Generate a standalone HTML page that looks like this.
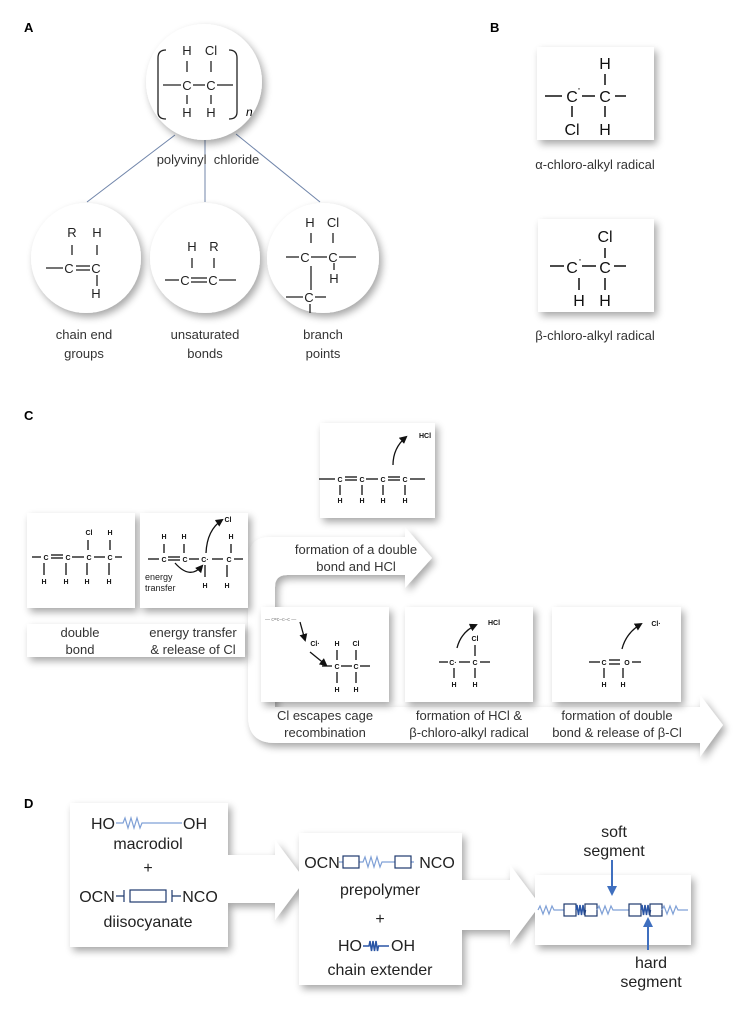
<!DOCTYPE html>
<html><head><meta charset="utf-8"><style>
html,body{margin:0;padding:0;background:#fff;}
svg{display:block;font-family:"Liberation Sans",sans-serif;}
</style></head><body>
<svg width="751" height="1009" viewBox="0 0 751 1009" xmlns="http://www.w3.org/2000/svg">
<defs>
<filter id="sh" x="-20%" y="-20%" width="150%" height="150%">
<feGaussianBlur in="SourceAlpha" stdDeviation="4"/>
<feOffset dx="3" dy="4" result="b"/>
<feComponentTransfer><feFuncA type="linear" slope="0.35"/></feComponentTransfer>
<feMerge><feMergeNode/><feMergeNode in="SourceGraphic"/></feMerge>
</filter>
<marker id="ah" markerWidth="8" markerHeight="8" refX="6" refY="4" orient="auto" markerUnits="userSpaceOnUse"><path d="M0,0 L8,4 L0,8 z" fill="#111"/></marker>
<marker id="bh" markerWidth="10" markerHeight="10" refX="8" refY="5" orient="auto" markerUnits="userSpaceOnUse"><path d="M0,0 L10,5 L0,10 z" fill="#3f6fbf"/></marker>
</defs>

<!-- Panel A -->
<text x="24" y="32" font-size="13" font-weight="bold">A</text>
<g stroke="#7085aa" stroke-width="1">
<line x1="175" y1="135" x2="87" y2="202"/>
<line x1="205" y1="140" x2="205" y2="202"/>
<line x1="236" y1="134" x2="320" y2="202"/>
</g>
<g filter="url(#sh)" fill="#fff">
<circle cx="204" cy="82" r="58"/>
<ellipse cx="86" cy="258" rx="55" ry="55"/>
<ellipse cx="205" cy="258" rx="55" ry="55"/>
<ellipse cx="323" cy="258" rx="56" ry="55"/>
</g>
<g font-size="13" text-anchor="middle" fill="#222">
<text x="187" y="55">H</text><text x="211" y="55">Cl</text>
<text x="187" y="90">C</text><text x="211" y="90">C</text>
<text x="187" y="117">H</text><text x="211" y="117">H</text>
</g>
<g stroke="#222" stroke-width="1.3" fill="none">
<line x1="187" y1="61" x2="187" y2="72"/><line x1="211" y1="61" x2="211" y2="72"/>
<line x1="187" y1="95" x2="187" y2="104"/><line x1="211" y1="95" x2="211" y2="104"/>
<line x1="163" y1="85" x2="181" y2="85"/><line x1="193" y1="85" x2="205" y2="85"/><line x1="217" y1="85" x2="233" y2="85"/>
<path d="M166,50 Q158,50 158,58 L158,112 Q158,119 166,119"/>
<path d="M229,50 Q237,50 237,58 L237,112 Q237,119 229,119"/>
</g>
<text x="246" y="116" font-size="12" font-style="italic">n</text>
<text x="208" y="164" font-size="13" text-anchor="middle" fill="#333">polyvinyl&#160; chloride</text>

<g font-size="13" text-anchor="middle" fill="#222">
<text x="72" y="237">R</text><text x="97" y="237">H</text>
<text x="69" y="273">C</text><text x="96" y="273">C</text>
<text x="96" y="298">H</text>
<text x="192" y="251">H</text><text x="214" y="251">R</text>
<text x="185" y="285">C</text><text x="213" y="285">C</text>
<text x="310" y="227">H</text><text x="333" y="227">Cl</text>
<text x="305" y="262">C</text><text x="333" y="262">C</text>
<text x="334" y="283">H</text>
<text x="309" y="302">C</text>
</g>
<g stroke="#222" stroke-width="1.3">
<line x1="72" y1="245" x2="72" y2="255"/><line x1="97" y1="245" x2="97" y2="255"/>
<line x1="46" y1="268" x2="63" y2="268"/><line x1="76" y1="266" x2="90" y2="266"/><line x1="76" y1="270" x2="90" y2="270"/>
<line x1="97" y1="275" x2="97" y2="286"/>
<line x1="192" y1="258" x2="192" y2="268"/><line x1="214" y1="258" x2="214" y2="268"/>
<line x1="165" y1="280" x2="179" y2="280"/><line x1="191" y1="278" x2="207" y2="278"/><line x1="191" y1="282" x2="207" y2="282"/><line x1="219" y1="280" x2="236" y2="280"/>
<line x1="311" y1="233" x2="311" y2="243"/><line x1="333" y1="233" x2="333" y2="243"/>
<line x1="286" y1="257" x2="299" y2="257"/><line x1="311" y1="257" x2="327" y2="257"/><line x1="339" y1="257" x2="356" y2="257"/>
<line x1="334" y1="263" x2="334" y2="270"/>
<line x1="311" y1="266" x2="311" y2="290"/>
<line x1="286" y1="297" x2="303" y2="297"/><line x1="315" y1="297" x2="326" y2="297"/>
<line x1="310" y1="304" x2="310" y2="313"/>
</g>
<g font-size="13" text-anchor="middle" fill="#333">
<text x="84" y="339">chain end</text><text x="84" y="358">groups</text>
<text x="205" y="339">unsaturated</text><text x="205" y="358">bonds</text>
<text x="323" y="339">branch</text><text x="323" y="358">points</text>
</g>

<!-- Panel B -->
<text x="490" y="32" font-size="13" font-weight="bold">B</text>
<g filter="url(#sh)" fill="#fff">
<rect x="537" y="47" width="117" height="93"/>
<rect x="538" y="219" width="116" height="93"/>
</g>
<g font-size="16" text-anchor="middle" fill="#111">
<text x="605" y="69">H</text>
<text x="572" y="102">C</text><text x="605" y="102">C</text>
<text x="572" y="135">Cl</text><text x="605" y="135">H</text>
<text x="605" y="242">Cl</text>
<text x="572" y="273">C</text><text x="605" y="273">C</text>
<text x="579" y="306">H</text><text x="605" y="306">H</text>
</g>
<g font-size="12" fill="#111"><text x="577" y="92">·</text><text x="578" y="263">·</text></g>
<g stroke="#111" stroke-width="1.5">
<line x1="605" y1="74" x2="605" y2="85"/>
<line x1="545" y1="96" x2="562" y2="96"/><line x1="582" y1="96" x2="595" y2="96"/><line x1="615" y1="96" x2="626" y2="96"/>
<line x1="572" y1="106" x2="572" y2="117"/><line x1="605" y1="106" x2="605" y2="117"/>
<line x1="605" y1="248" x2="605" y2="258"/>
<line x1="550" y1="266" x2="564" y2="266"/><line x1="582" y1="266" x2="596" y2="266"/><line x1="614" y1="266" x2="626" y2="266"/>
<line x1="579" y1="278" x2="579" y2="290"/><line x1="605" y1="278" x2="605" y2="290"/>
</g>
<g font-size="13" text-anchor="middle" fill="#333">
<text x="595" y="169">α-chloro-alkyl radical</text>
<text x="595" y="340">β-chloro-alkyl radical</text>
</g>

<!-- Panel C -->
<text x="24" y="420" font-size="13" font-weight="bold">C</text>
<path filter="url(#sh)" fill="#fff" d="M248,560 Q248,537 270,537 L405,537 L405,527 L432,558 L405,588 L405,575 L287,575 Q275,575 275,587 L275,707 L700,707 L700,695 L723,725 L700,757 L700,743 L275,743 Q248,743 248,716 Z"/>
<g filter="url(#sh)" fill="#fff">
<rect x="320" y="423" width="115" height="95"/>
<rect x="27" y="513" width="108" height="95"/>
<rect x="140" y="513" width="108" height="95"/>
<rect x="27" y="624" width="218" height="33"/>
<rect x="261" y="607" width="128" height="95"/>
<rect x="405" y="607" width="128" height="95"/>
<rect x="552" y="607" width="129" height="95"/>
</g>
<g font-size="13" text-anchor="middle" fill="#333">
<text x="356" y="554">formation of a double</text>
<text x="356" y="571">bond and HCl</text>
<text x="80" y="637">double</text><text x="80" y="654">bond</text>
<text x="193" y="637">energy transfer</text><text x="193" y="654">&amp; release of Cl</text>
<text x="325" y="720">Cl escapes cage</text><text x="325" y="737">recombination</text>
<text x="469" y="720">formation of HCl &amp;</text><text x="469" y="737">β-chloro-alkyl radical</text>
<text x="617" y="720">formation of double</text><text x="617" y="737">bond &amp; release of β-Cl</text>
</g>
<g font-size="7" text-anchor="middle" fill="#111" font-weight="bold">
<text x="340" y="482">C</text><text x="362" y="482">C</text><text x="383" y="482">C</text><text x="405" y="482">C</text>
<text x="340" y="503">H</text><text x="362" y="503">H</text><text x="383" y="503">H</text><text x="405" y="503">H</text>
<text x="425" y="438">HCl</text>
<text x="46" y="560">C</text><text x="68" y="560">C</text><text x="89" y="560">C</text><text x="110" y="560">C</text>
<text x="89" y="535">Cl</text><text x="110" y="535">H</text>
<text x="44" y="584">H</text><text x="66" y="584">H</text><text x="87" y="584">H</text><text x="109" y="584">H</text>
<text x="164" y="539">H</text><text x="184" y="539">H</text><text x="231" y="539">H</text>
<text x="164" y="562">C</text><text x="185" y="562">C</text><text x="205" y="562">C·</text><text x="229" y="562">C</text>
<text x="205" y="588">H</text><text x="227" y="588">H</text>
<text x="228" y="522">Cl</text>
<text x="315" y="646">Cl·</text>
<text x="337" y="646">H</text><text x="356" y="646">Cl</text>
<text x="337" y="669">C</text><text x="356" y="669">C</text>
<text x="337" y="692">H</text><text x="356" y="692">H</text>
<!-- box4 -->
<text x="494" y="625">HCl</text>
<text x="475" y="641">Cl</text>
<text x="453" y="665">C·</text><text x="475" y="665">C</text>
<text x="454" y="687">H</text><text x="475" y="687">H</text>
<!-- box5 -->
<text x="656" y="626">Cl·</text>
<text x="604" y="665">C</text><text x="627" y="665">O</text>
<text x="604" y="687">H</text><text x="623" y="687">H</text>
</g>
<text x="145" y="580" font-size="9" fill="#222">energy</text>
<text x="145" y="591" font-size="9" fill="#222">transfer</text>
<g font-size="5" fill="#777"><text x="265" y="621">— c=c–c–c —</text></g>
<g stroke="#111" stroke-width="1.3" fill="none">
<line x1="319" y1="479" x2="335" y2="479"/><line x1="345" y1="477" x2="357" y2="477"/><line x1="345" y1="480" x2="357" y2="480"/>
<line x1="366" y1="479" x2="378" y2="479"/><line x1="388" y1="477" x2="400" y2="477"/><line x1="388" y1="480" x2="400" y2="480"/><line x1="410" y1="479" x2="425" y2="479"/>
<line x1="340" y1="485" x2="340" y2="495"/><line x1="362" y1="485" x2="362" y2="495"/><line x1="383" y1="485" x2="383" y2="495"/><line x1="405" y1="485" x2="405" y2="495"/>
<path d="M393,465 Q393,448 406,437" marker-end="url(#ah)"/>
<line x1="32" y1="557" x2="41" y2="557"/><line x1="51" y1="555" x2="63" y2="555"/><line x1="51" y1="558" x2="63" y2="558"/>
<line x1="72" y1="557" x2="84" y2="557"/><line x1="94" y1="557" x2="105" y2="557"/><line x1="115" y1="557" x2="122" y2="557"/>
<line x1="88" y1="540" x2="88" y2="550"/><line x1="110" y1="540" x2="110" y2="550"/>
<line x1="44" y1="563" x2="44" y2="575"/><line x1="66" y1="563" x2="66" y2="575"/><line x1="87" y1="563" x2="87" y2="575"/><line x1="109" y1="563" x2="109" y2="575"/>
<line x1="148" y1="559" x2="159" y2="559"/><line x1="168" y1="557" x2="180" y2="557"/><line x1="168" y1="560" x2="180" y2="560"/>
<line x1="189" y1="559" x2="199" y2="559"/><line x1="212" y1="559" x2="223" y2="559"/><line x1="234" y1="559" x2="243" y2="559"/>
<line x1="164" y1="544" x2="164" y2="553"/><line x1="184" y1="544" x2="184" y2="553"/><line x1="231" y1="544" x2="231" y2="553"/>
<line x1="205" y1="565" x2="205" y2="577"/><line x1="227" y1="565" x2="227" y2="577"/>
<path d="M175,563 Q190,580 202,566" marker-end="url(#ah)"/>
<path d="M206,553 Q207,530 222,520" marker-end="url(#ah)"/>
<path d="M300,622 L305,640" marker-end="url(#ah)"/>
<path d="M310,652 L326,665" marker-end="url(#ah)"/>
<line x1="322" y1="666" x2="332" y2="666"/><line x1="341" y1="666" x2="352" y2="666"/><line x1="360" y1="666" x2="370" y2="666"/>
<line x1="337" y1="650" x2="337" y2="660"/><line x1="356" y1="650" x2="356" y2="660"/>
<line x1="337" y1="672" x2="337" y2="683"/><line x1="356" y1="672" x2="356" y2="683"/>
<!-- box4 -->
<line x1="439" y1="662" x2="448" y2="662"/><line x1="459" y1="662" x2="470" y2="662"/><line x1="480" y1="662" x2="490" y2="662"/>
<line x1="475" y1="645" x2="475" y2="656"/>
<line x1="454" y1="668" x2="454" y2="678"/><line x1="475" y1="668" x2="475" y2="678"/>
<path d="M457,648 Q461,632 476,625" marker-end="url(#ah)"/>
<!-- box5 -->
<line x1="589" y1="662" x2="600" y2="662"/><line x1="609" y1="660" x2="620" y2="660"/><line x1="609" y1="664" x2="620" y2="664"/><line x1="632" y1="662" x2="641" y2="662"/>
<line x1="604" y1="668" x2="604" y2="678"/><line x1="623" y1="668" x2="623" y2="678"/>
<path d="M622,649 Q626,633 641,624" marker-end="url(#ah)"/>
</g>

<!-- Panel D -->
<text x="24" y="808" font-size="13" font-weight="bold">D</text>
<g filter="url(#sh)" fill="#fff">
<path d="M228,855 L275,855 L275,840 L305,880 L275,920 L275,903 L228,903 Z"/>
<path d="M462,880 L510,880 L510,865 L540,905 L510,945 L510,930 L462,930 Z"/>
<rect x="70" y="803" width="158" height="144"/>
<rect x="299" y="833" width="163" height="152"/>
<rect x="535" y="875" width="156" height="70"/>
</g>
<g font-size="16" fill="#222" text-anchor="middle">
<text x="103" y="829">HO</text><text x="195" y="829">OH</text>
<text x="148" y="849">macrodiol</text>
<text x="148" y="873">+</text>
<text x="97" y="902">OCN</text><text x="200" y="902">NCO</text>
<text x="148" y="927">diisocyanate</text>
<text x="322" y="868">OCN</text><text x="437" y="868">NCO</text>
<text x="380" y="895">prepolymer</text>
<text x="380" y="924">+</text>
<text x="350" y="951">HO</text><text x="403" y="951">OH</text>
<text x="380" y="975">chain extender</text>
<text x="614" y="837">soft</text><text x="614" y="856">segment</text>
<text x="651" y="968">hard</text><text x="651" y="987">segment</text>
</g>
<g fill="none" stroke-width="1.2">
<path d="M116,823 H123 l2,-5 l3,10 l3,-10 l3,10 l3,-10 l3,10 l2,-5 H182" stroke="#7fa0d6"/>
<path d="M116,896 H124 M124,890 V902 M172,890 V902 M172,896 H181" stroke="#1f3a6e"/>
<rect x="130" y="890" width="36" height="12" stroke="#1f3a6e"/>
<path d="M339,862 H343 M359,862 H363 l2,-5 l3,10 l3,-10 l3,10 l3,-10 l3,10 l2,-5 H395 M411,862 H414" stroke="#7fa0d6"/>
<rect x="343" y="856" width="16" height="12" stroke="#1f3a6e"/>
<rect x="395" y="856" width="16" height="12" stroke="#1f3a6e"/>
<path d="M363,946 H369 l1,-5 l1.5,10 l1.5,-10 l1.5,10 l1.5,-10 l1.5,10 l1,-5 H389" stroke="#2a55a5" stroke-width="1.5"/>
<path d="M538,910 l2,-4 l3,8 l3,-8 l3,8 l3,-8 l2,4 H564" stroke="#7fa0d6"/>
<rect x="564" y="904" width="12" height="12" stroke="#1f3a6e"/>
<path d="M576,910 l1,-5 l1.5,10 l1.5,-10 l1.5,10 l1.5,-10 l1.5,10 l1,-5" stroke="#2a55a5" stroke-width="1.5"/>
<rect x="585" y="904" width="12" height="12" stroke="#1f3a6e"/>
<path d="M597,910 l2,-4 l3,8 l3,-8 l3,8 l3,-8 l2,4 H629" stroke="#7fa0d6"/>
<rect x="629" y="904" width="12" height="12" stroke="#1f3a6e"/>
<path d="M641,910 l1,-5 l1.5,10 l1.5,-10 l1.5,10 l1.5,-10 l1.5,10 l1,-5" stroke="#2a55a5" stroke-width="1.5"/>
<rect x="650" y="904" width="12" height="12" stroke="#1f3a6e"/>
<path d="M662,910 l2,-4 l3,8 l3,-8 l3,8 l3,-8 l2,4 H688" stroke="#7fa0d6"/>
<line x1="612" y1="860" x2="612" y2="894" stroke="#3f6fbf" stroke-width="2" marker-end="url(#bh)"/>
<line x1="648" y1="950" x2="648" y2="919" stroke="#3f6fbf" stroke-width="2" marker-end="url(#bh)"/>
</g>
</svg>
</body></html>
